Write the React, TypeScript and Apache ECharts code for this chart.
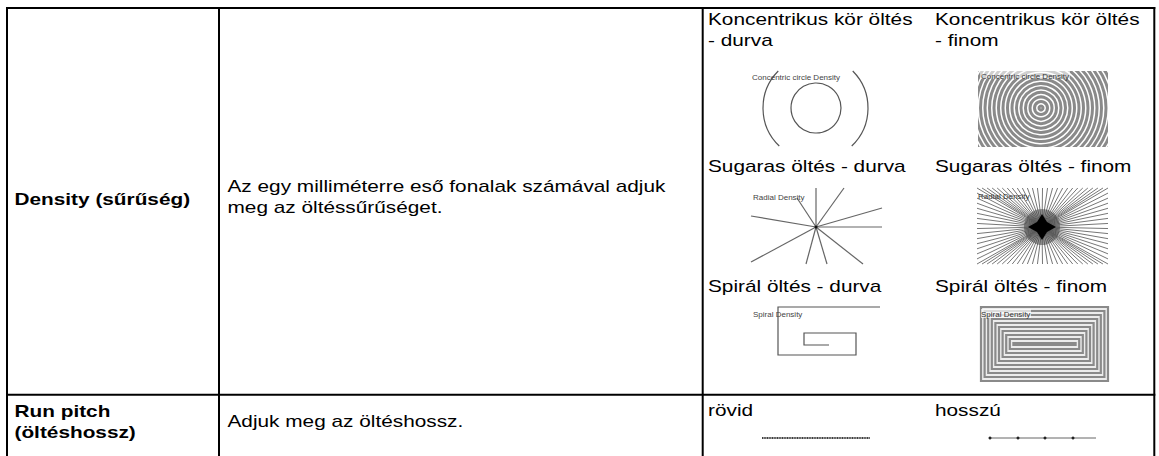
import React, { useEffect, useRef } from "react";
import * as echarts from "echarts";

const rowHeaders: string[][] = [["Density (sűrűség)"], ["Run pitch", "(öltéshossz)"]];
const descriptions: string[][] = [
  ["Az egy milliméterre eső fonalak számával adjuk", "meg az öltéssűrűséget."],
  ["Adjuk meg az öltéshossz."],
];
const densityCaptions: string[][] = [
  ["Koncentrikus kör öltés", "- durva"],
  ["Koncentrikus kör öltés", "- finom"],
  ["Sugaras öltés - durva"],
  ["Sugaras öltés - finom"],
  ["Spirál öltés - durva"],
  ["Spirál öltés - finom"],
];
const pitchCaptions: string[] = ["rövid", "hosszú"];
const thumbTitles: string[] = ["Concentric circle Density", "Radial Density", "Spiral Density"];

// illustration parameters
const fineRingRadii: number[] = [2, 6.5, 11, 15.5, 20, 24.5, 29, 33.5, 38, 42.5, 47, 51.5, 56, 60.5, 65, 69.5, 74, 78.5];
const coarseRadialEnds: number[][] = [
  [816, 188], [844, 188], [882, 208], [882, 227], [863, 264], [827, 264],
  [806, 264], [751, 262], [751, 216], [797, 198],
];
const spiralCoarse: number[][] = [
  [880, 307], [778, 307], [778, 355], [856, 355], [856, 333], [804, 333], [804, 345], [829, 345],
];
const spiralFineSteps: number[] = [0, 1, 2, 3, 4, 5, 6, 7, 8, 9];
const longPitchTicks: number[] = [990, 1018, 1045, 1073];

const FONT = '"Liberation Sans", Arial, sans-serif';
const SX = 1.3;

function txt(x: number, y: number, s: string, opts: any = {}) {
  return {
    type: "text",
    x,
    y,
    scaleX: opts.scaleX ?? SX,
    z: opts.z ?? 10,
    style: {
      text: s,
      fill: opts.fill ?? "#000",
      fontSize: opts.size ?? 16,
      fontFamily: FONT,
      fontWeight: opts.weight ?? "normal",
      textAlign: "left",
      textVerticalAlign: "middle",
    },
  };
}

function line(x1: number, y1: number, x2: number, y2: number, stroke: string, w: number, z = 5, extra: any = {}) {
  return {
    type: "line",
    z,
    shape: { x1, y1, x2, y2 },
    style: { stroke, lineWidth: w, ...extra },
  };
}

function buildGraphics() {
  const els: any[] = [];
  els.push({ type: "rect", z: 0, shape: { x: 0, y: 0, width: 1159, height: 456 }, style: { fill: "#fff" } });

  // ---- concentric coarse
  els.push({ type: "circle", z: 5, shape: { cx: 816, cy: 108, r: 25 }, style: { fill: "none", stroke: "#555", lineWidth: 1.2 } });
  const a1 = Math.asin(37 / 52.5);
  const a2 = Math.asin(38 / 52.5);
  els.push({ type: "arc", z: 5, shape: { cx: 815.5, cy: 108, r: 52.5, startAngle: -a1, endAngle: a2, clockwise: true }, style: { fill: "none", stroke: "#555", lineWidth: 1.2 } });
  els.push({ type: "arc", z: 5, shape: { cx: 815.5, cy: 108, r: 52.5, startAngle: Math.PI - a2, endAngle: Math.PI + a1, clockwise: true }, style: { fill: "none", stroke: "#555", lineWidth: 1.2 } });
  els.push(txt(752, 77, thumbTitles[0], { size: 8, scaleX: 1, fill: "#444" }));

  // ---- concentric fine (rings + masks)
  fineRingRadii.forEach((r) => {
    els.push({ type: "circle", z: 1, shape: { cx: 1041, cy: 108, r }, style: { fill: "none", stroke: "#8a8a8a", lineWidth: 3 } });
  });
  const masks = [
    [940, 20, 200, 51],
    [940, 147, 200, 45],
    [940, 71, 38, 76],
    [1108, 71, 44, 76],
  ];
  masks.forEach(([x, y, w, h]) => els.push({ type: "rect", z: 2, shape: { x, y, width: w, height: h }, style: { fill: "#fff" } }));
  els.push({ type: "rect", z: 3, shape: { x: 980, y: 71, width: 90, height: 8 }, style: { fill: "rgba(255,255,255,0.6)" } });
  els.push(txt(981, 76, thumbTitles[0], { size: 8, scaleX: 1, fill: "#333", z: 4 }));

  // ---- radial coarse
  coarseRadialEnds.forEach(([x, y]) => els.push(line(816, 227, x, y, "#666", 1.2)));
  els.push({ type: "circle", z: 6, shape: { cx: 816, cy: 227, r: 1.5 }, style: { fill: "#111" } });
  els.push(txt(753, 197, thumbTitles[1], { size: 8, scaleX: 1, fill: "#444" }));

  // ---- radial fine
  const bx = 977, by = 188, bw = 131, bh = 76, cx = 1042, cy = 227;
  const n = 26;
  for (let i = 0; i < n; i++) {
    const t = i / n;
    els.push(line(cx, cy, bx + bw * t, by, "#777", 1, 4));
    els.push(line(cx, cy, bx + bw * (1 - t), by + bh, "#777", 1, 4));
  }
  const m = 15;
  for (let i = 0; i < m; i++) {
    const t = i / m;
    els.push(line(cx, cy, bx + bw, by + bh * t, "#777", 1, 4));
    els.push(line(cx, cy, bx, by + bh * (1 - t), "#777", 1, 4));
  }
  els.push({
    type: "polygon",
    z: 6,
    shape: {
      points: [
        [cx, cy - 13], [cx + 5, cy - 5], [cx + 14, cy], [cx + 5, cy + 5],
        [cx, cy + 13], [cx - 5, cy + 5], [cx - 14, cy], [cx - 5, cy - 5],
      ],
    },
    style: { fill: "#000" },
  });
  els.push({ type: "circle", z: 5, shape: { cx, cy, r: 18 }, style: { fill: "rgba(60,60,60,0.5)" } });
  els.push(txt(978, 196, thumbTitles[1], { size: 8, scaleX: 1, fill: "#333", z: 7 }));

  // ---- spiral coarse
  els.push({ type: "polyline", z: 5, shape: { points: spiralCoarse }, style: { stroke: "#555", lineWidth: 1.2, fill: "none" } });
  els.push(txt(753, 314, thumbTitles[2], { size: 8, scaleX: 1, fill: "#444" }));

  // ---- spiral fine
  els.push({ type: "rect", z: 3, shape: { x: 980, y: 306, width: 129, height: 76 }, style: { fill: "#ececec" } });
  spiralFineSteps.forEach((i) => {
    const hw = 64.5 - 3.6 * i;
    const hh = 38 - 4 * i;
    els.push({
      type: "rect",
      z: 4,
      shape: { x: 1044.5 - hw + 1, y: 344 - hh + 1, width: 2 * hw - 2, height: Math.max(2 * hh - 2, 1) },
      style: { fill: "none", stroke: "#8a8a8a", lineWidth: 2.2 },
    });
  });
  els.push({ type: "rect", z: 5, shape: { x: 981, y: 309, width: 50, height: 9 }, style: { fill: "rgba(255,255,255,0.7)" } });
  els.push(txt(981, 314, thumbTitles[2], { size: 8, scaleX: 1, fill: "#333", z: 6 }));

  // ---- pitch lines
  els.push(line(762, 438, 870, 438, "#999", 2, 5));
  els.push(line(762, 438, 870, 438, "#222", 1.6, 6, { lineDash: [1, 1.5] }));
  els.push(line(990, 438, 1096, 438, "#666", 1, 5));
  longPitchTicks.forEach((x) => els.push({ type: "circle", z: 6, shape: { cx: x, cy: 438, r: 1.5 }, style: { fill: "#222" } }));

  // ---- texts
  els.push(txt(14.5, 199, rowHeaders[0][0], { weight: "bold" }));
  els.push(txt(14.5, 411, rowHeaders[1][0], { weight: "bold" }));
  els.push(txt(14.5, 432, rowHeaders[1][1], { weight: "bold" }));
  els.push(txt(227.5, 186, descriptions[0][0]));
  els.push(txt(227.5, 207, descriptions[0][1]));
  els.push(txt(227.5, 421.5, descriptions[1][0]));

  const colX = [708, 935];
  const rowY = [19.5, 166.5, 286];
  densityCaptions.forEach((lines, i) => {
    const x = colX[i % 2];
    const y0 = rowY[Math.floor(i / 2)];
    lines.forEach((s, j) => els.push(txt(x, y0 + j * 21, s)));
  });
  pitchCaptions.forEach((s, i) => els.push(txt(colX[i], 410.5, s)));

  // ---- borders
  const B = "#000";
  els.push(line(6, 8, 1155.3, 8, B, 2, 20));
  els.push(line(7, 7, 7, 456, B, 2, 20));
  els.push(line(219, 8, 219, 456, B, 2, 20));
  els.push(line(702.7, 8, 702.7, 456, B, 2, 20));
  els.push(line(1154.3, 7, 1154.3, 456, B, 2, 20));
  els.push(line(6, 394.7, 1155.3, 394.7, B, 2, 20));
  return els;
}

export default function App() {
  const ref = useRef<HTMLDivElement>(null);
  useEffect(() => {
    if (!ref.current) return;
    const chart = echarts.init(ref.current, undefined, { renderer: "svg" });
    chart.setOption({
      animation: false,
      backgroundColor: "#fff",
      graphic: { elements: buildGraphics() },
    });
    return () => chart.dispose();
  }, []);
  return (
    <div
      ref={ref}
      style={{ position: "fixed", left: 0, top: 0, width: 1159, height: 456, background: "#fff" }}
    />
  );
}
